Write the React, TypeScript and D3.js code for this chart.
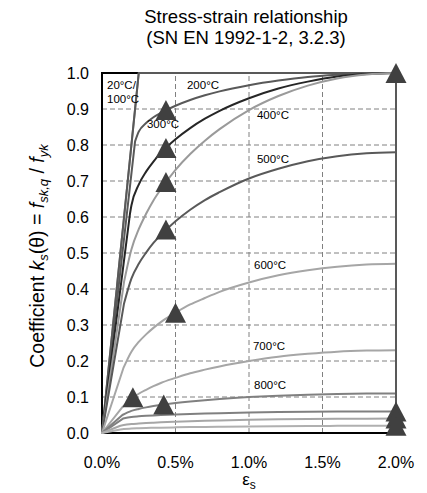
import React from "react";
import * as d3 from "d3";

// ---------- data ----------
const titleLines = ["Stress-strain relationship", "(SN EN 1992-1-2, 3.2.3)"];
const xTicks = [0, 0.5, 1.0, 1.5, 2.0]; // strain in %
const yTicks = [0, 0.1, 0.2, 0.3, 0.4, 0.5, 0.6, 0.7, 0.8, 0.9, 1.0];

const temperatures = ["20°C", "100°C", "200°C", "300°C", "400°C", "500°C", "600°C", "700°C", "800°C", "900°C", "1000°C", "1100°C"];
// end of the linear (elastic) branch: strain % and coefficient
const elasticStrain = [0.25, 0.25, 0.225, 0.1906, 0.15, 0.15, 0.1452, 0.1346, 0.1389, 0.1429, 0.125, 0.125];
const elasticK = [1.0, 1.0, 0.81, 0.61, 0.42, 0.36, 0.18, 0.07, 0.05, 0.04, 0.02, 0.01];

// strain (%) at which the curved branch was read
const strainGrid = [0.2, 0.25, 0.3, 0.35, 0.4, 0.5, 0.6, 0.7, 0.8, 1.0, 1.2, 1.4, 1.6, 1.8, 2.0];
const k20 = [null, null, 1.0, 1.0, 1.0, 1.0, 1.0, 1.0, 1.0, 1.0, 1.0, 1.0, 1.0, 1.0, 1.0];
const k100 = [null, null, 1.0, 1.0, 1.0, 1.0, 1.0, 1.0, 1.0, 1.0, 1.0, 1.0, 1.0, 1.0, 1.0];
const k200 = [null, 0.837, 0.861, 0.877, 0.889, 0.909, 0.925, 0.938, 0.949, 0.966, 0.979, 0.989, 0.995, 0.999, 1.0];
const k300 = [0.632, 0.69, 0.726, 0.754, 0.778, 0.816, 0.847, 0.873, 0.895, 0.93, 0.957, 0.976, 0.99, 0.997, 1.0];
const k400 = [0.51, 0.566, 0.609, 0.646, 0.677, 0.731, 0.775, 0.812, 0.844, 0.897, 0.936, 0.965, 0.985, 0.996, 1.0];
const k500 = [0.429, 0.47, 0.501, 0.528, 0.55, 0.588, 0.62, 0.647, 0.669, 0.707, 0.734, 0.755, 0.769, 0.777, 0.78];
const k600 = [0.226, 0.253, 0.274, 0.292, 0.308, 0.334, 0.357, 0.375, 0.392, 0.418, 0.438, 0.452, 0.462, 0.468, 0.47];
const k700 = [0.095, 0.109, 0.12, 0.13, 0.139, 0.153, 0.166, 0.176, 0.185, 0.2, 0.212, 0.22, 0.226, 0.229, 0.23];
const k800 = [0.0615, 0.0669, 0.0712, 0.0748, 0.0779, 0.0832, 0.0876, 0.0913, 0.0945, 0.0997, 0.1036, 0.1065, 0.1085, 0.1096, 0.11];
const k900 = [0.0444, 0.0462, 0.0476, 0.0488, 0.0498, 0.0515, 0.0529, 0.0541, 0.0551, 0.0567, 0.058, 0.0589, 0.0595, 0.0599, 0.06];
const k1000 = [0.0247, 0.0263, 0.0277, 0.0288, 0.0298, 0.0314, 0.0328, 0.034, 0.035, 0.0367, 0.038, 0.0389, 0.0395, 0.0399, 0.04];
const k1100 = [0.0124, 0.0132, 0.0139, 0.0144, 0.0149, 0.0157, 0.0164, 0.017, 0.0175, 0.0184, 0.019, 0.0195, 0.0198, 0.02, 0.02];
const seriesK = [k20, k100, k200, k300, k400, k500, k600, k700, k800, k900, k1000, k1100];

// triangle markers
const markerStrain = [2.0, 0.435, 0.435, 0.435, 0.435, 0.5, 0.21, 0.42, 2.0, 2.0, 2.0];
const markerK = [1.0, 0.897, 0.792, 0.697, 0.565, 0.334, 0.099, 0.079, 0.06, 0.04, 0.02];

// curve labels
const labelText = ["20°C/", "100°C", "200°C", "300°C", "400°C", "500°C", "600°C", "700°C", "800°C"];

// ---------- layout / style ----------
const W = 427;
const H = 493;
const PL = 102, PR = 396, PT = 73, PB = 433;
const FONT = "'Liberation Sans', Arial, Helvetica, sans-serif";
const seriesColor = ["#7f7f7f", "#595959", "#595959", "#262626", "#9a9a9a", "#595959", "#a6a6a6", "#a6a6a6", "#808080", "#808080", "#a6a6a6", "#b0b0b0"];
const labelStrain = [0.034, 0.034, 0.578, 0.306, 1.054, 1.054, 1.034, 1.027, 1.034];
const labelK = [0.956, 0.917, 0.956, 0.847, 0.872, 0.75, 0.456, 0.231, 0.122];

export default function App() {
  const x = d3.scaleLinear().domain([0, 2]).range([PL, PR]);
  const y = d3.scaleLinear().domain([0, 1]).range([PB, PT]);

  const lin = d3.line<[number, number]>().x((d) => x(d[0])).y((d) => y(d[1]));
  const smooth = d3
    .line<[number, number]>()
    .curve(d3.curveMonotoneX)
    .x((d) => x(d[0]))
    .y((d) => y(d[1]));

  const paths = seriesK.map((ks, i) => {
    const e: [number, number] = [elasticStrain[i], elasticK[i]];
    const elastic = lin([[0, 0], e]) || "";
    const pts: [number, number][] = [e];
    strainGrid.forEach((s, j) => {
      const k = ks[j];
      if (k !== null && s > elasticStrain[i]) pts.push([s, k as number]);
    });
    const plastic = smooth(pts) || "";
    return elastic + plastic;
  });

  const tri = "M0,-10L10.5,10L-10.5,10Z";

  return (
    <svg
      width={W}
      height={H}
      style={{ position: "absolute", left: 0, top: 0, background: "#fff" }}
      fontFamily={FONT}
    >
      <rect x={0} y={0} width={W} height={H} fill="#fff" />
      {/* title */}
      <text x={246} y={23} textAnchor="middle" fontSize={18.5} fill="#000">
        {titleLines[0]}
      </text>
      <text x={246} y={44} textAnchor="middle" fontSize={18.5} fill="#000">
        {titleLines[1]}
      </text>

      {/* grid */}
      {xTicks.slice(1, -1).map((t) => (
        <line key={"gx" + t} x1={x(t)} x2={x(t)} y1={y(0)} y2={y(1)} stroke="#808080" strokeWidth={1} strokeDasharray="5,3" />
      ))}
      {yTicks.slice(1, -1).map((t) => (
        <line key={"gy" + t} x1={x(0)} x2={x(2)} y1={y(t)} y2={y(t)} stroke="#808080" strokeWidth={1} strokeDasharray="5,3" />
      ))}

      {/* frame */}
      <rect x={x(0)} y={y(1)} width={x(2) - x(0)} height={y(0) - y(1)} fill="none" stroke="#000" strokeWidth={2} />

      {/* curves */}
      {paths.map((p, i) => (
        <path key={"s" + i} d={p} fill="none" stroke={seriesColor[i]} strokeWidth={2} strokeLinejoin="round" strokeLinecap="round">
          <title>{temperatures[i]}</title>
        </path>
      ))}
      {/* vertical limit at 2 % */}
      <line x1={x(2)} x2={x(2)} y1={y(0)} y2={y(1)} stroke="#595959" strokeWidth={2} />

      {/* markers */}
      {markerStrain.map((s, i) => (
        <path key={"m" + i} d={tri} transform={`translate(${x(s)},${y(markerK[i])})`} fill="#404040" />
      ))}

      {/* curve labels */}
      {labelText.map((t, i) => (
        <text key={"l" + i} x={x(labelStrain[i])} y={y(labelK[i])} fontSize={11.5} fill="#000">
          {t}
        </text>
      ))}

      {/* y tick labels */}
      {yTicks.map((t) => (
        <text key={"yt" + t} x={89} y={y(t)} dy="0.35em" textAnchor="end" fontSize={16} fill="#000">
          {t.toFixed(1)}
        </text>
      ))}
      {/* x tick labels */}
      {xTicks.map((t) => (
        <text key={"xt" + t} x={x(t)} y={468} textAnchor="middle" fontSize={16} fill="#000">
          {t.toFixed(1) + "%"}
        </text>
      ))}

      {/* x title */}
      <text x={249} y={485} textAnchor="middle" fontSize={17} fill="#000">
        ε<tspan fontSize={12} dy={4}>s</tspan>
      </text>

      {/* y title */}
      <text transform={`translate(44,${(PT + PB) / 2 + 3}) rotate(-90)`} textAnchor="middle" fontSize={19.5} fill="#000">
        Coefficient <tspan fontStyle="italic">k</tspan>
        <tspan fontStyle="italic" fontSize={13} dy={4}>s</tspan>
        <tspan dy={-4}>(θ) = </tspan>
        <tspan fontStyle="italic">f</tspan>
        <tspan fontStyle="italic" fontSize={13} dy={4}>sk,q</tspan>
        <tspan dy={-4}> / </tspan>
        <tspan fontStyle="italic">f</tspan>
        <tspan fontStyle="italic" fontSize={13} dy={4}>yk</tspan>
      </text>
    </svg>
  );
}
